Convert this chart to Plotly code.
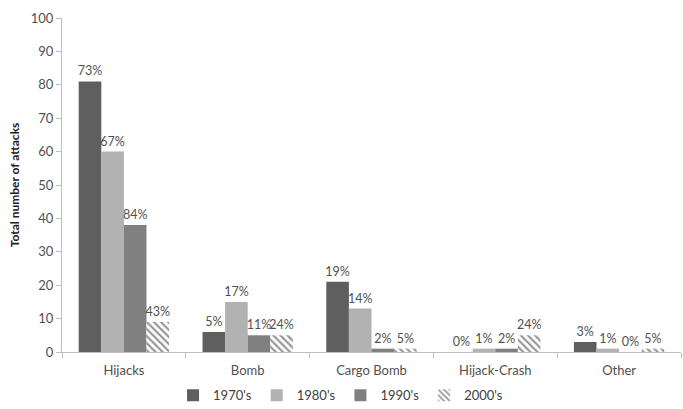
import plotly.graph_objects as go

categories = ["Hijacks", "Bomb", "Cargo Bomb", "Hijack-Crash", "Other"]
series_names = ["1970's", "1980's", "1990's", "2000's"]
v1970 = [81, 6, 21, 0, 3]
v1980 = [60, 15, 13, 1, 1]
v1990 = [38, 5, 1, 1, 0]
v2000 = [9, 5, 1, 5, 1]
l1970 = ["73%", "5%", "19%", "0%", "3%"]
l1980 = ["67%", "17%", "14%", "1%", "1%"]
l1990 = ["84%", "11%", "2%", "2%", "0%"]
l2000 = ["43%", "24%", "5%", "24%", "5%"]
y_ticks = [0, 10, 20, 30, 40, 50, 60, 70, 80, 90, 100]

values = [v1970, v1980, v1990, v2000]
labels = [l1970, l1980, l1990, l2000]
colors = ["#5f5f5f", "#b2b2b2", "#808080", "#ffffff"]

fig = go.Figure()
for i, name in enumerate(series_names):
    marker = dict(color=colors[i], line=dict(width=0))
    if i == 3:
        marker = dict(color="#ffffff", line=dict(width=0),
                      pattern=dict(shape="\\", fgcolor="#303030", bgcolor="#ffffff",
                                   size=5, solidity=0.45))
    fig.add_trace(go.Bar(
        x=categories, y=values[i], name=name, marker=marker,
        text=labels[i], textposition="outside", cliponaxis=False,
        constraintext="none", textangle=0,
        textfont=dict(size=12.5, color="#505050"),
    ))

fig.update_layout(
    width=683, height=409,
    margin=dict(l=62, r=2, t=18, b=57, autoexpand=False),
    paper_bgcolor="white", plot_bgcolor="white",
    font=dict(family="Lato, sans-serif", color="#404040"),
    barmode="group", bargap=0.27, bargroupgap=0,
    showlegend=True,
    legend=dict(orientation="h", x=0.45, xanchor="center", y=-0.085, yanchor="top",
                font=dict(size=13, color="#404040"), itemwidth=30,
                tracegroupgap=0, traceorder="normal"),
)
fig.update_yaxes(
    range=[0, 100], tickvals=y_ticks, showgrid=False, zeroline=False,
    showline=True, linecolor="#bfbfbf", linewidth=1,
    ticks="outside", ticklen=5, tickcolor="#bfbfbf",
    tickfont=dict(size=13, color="#505050"),
    title=dict(text="<b>Total number of attacks</b>", font=dict(size=12, color="#202020"), standoff=8),
)
fig.update_xaxes(
    showgrid=False, showline=True, linecolor="#bfbfbf", linewidth=1,
    ticks="outside", ticklen=5, tickcolor="#bfbfbf", tickson="boundaries",
    ticklabelstandoff=6,
    tickfont=dict(size=13, color="#505050"),
)
fig.write_html("out.html")
